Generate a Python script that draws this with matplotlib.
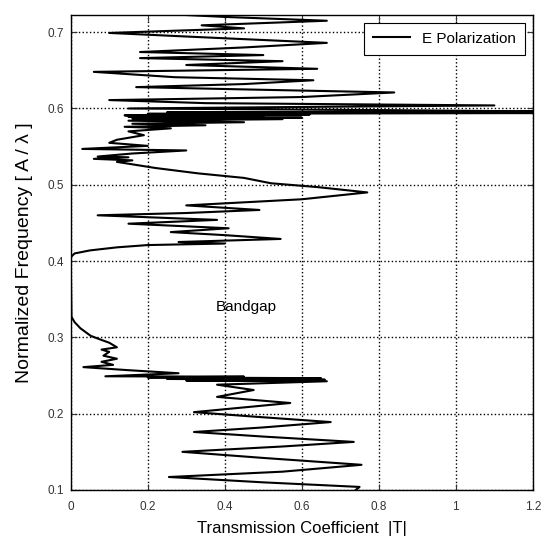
import matplotlib
matplotlib.use("Agg")
import matplotlib.pyplot as plt

plt.rcParams['font.family'] = ['Liberation Sans', 'DejaVu Sans']

# Normalized frequency (a/lambda) and transmission |T|
freq = [0.100, 0.104, 0.110, 0.117, 0.124, 0.133, 0.142, 0.150, 0.157, 0.163,
        0.170, 0.176, 0.182, 0.189, 0.196, 0.202, 0.214, 0.222, 0.231, 0.238,
        0.2425, 0.2435, 0.2445, 0.2455, 0.2465, 0.2475, 0.2485, 0.249, 0.253,
        0.257, 0.261, 0.264, 0.268,
        0.272, 0.276, 0.281, 0.284, 0.287, 0.293, 0.297, 0.302, 0.312, 0.320,
        0.327, 0.405, 0.410, 0.414, 0.418, 0.421, 0.423, 0.425, 0.429, 0.434,
        0.438, 0.443, 0.449, 0.454, 0.460, 0.463, 0.467, 0.473, 0.481, 0.490,
        0.497, 0.502, 0.509, 0.515, 0.522, 0.530, 0.532, 0.534, 0.536, 0.537,
        0.541, 0.545,
        0.547, 0.551, 0.555, 0.559, 0.565, 0.570, 0.574, 0.576, 0.578, 0.580,
        0.582, 0.584, 0.586, 0.587, 0.588, 0.589, 0.590, 0.591, 0.592, 0.593,
        0.594, 0.595, 0.596, 0.598, 0.600, 0.602,
        0.604, 0.607, 0.611, 0.615, 0.621, 0.625, 0.628, 0.632, 0.637, 0.641,
        0.648, 0.652, 0.657, 0.662, 0.666, 0.670, 0.674, 0.680, 0.686, 0.692,
        0.699, 0.705, 0.709, 0.715, 0.720, 0.725]
trans = [0.74, 0.75, 0.50, 0.255, 0.55, 0.755, 0.50, 0.29, 0.55, 0.735,
         0.50, 0.32, 0.50, 0.675, 0.48, 0.32, 0.57, 0.38, 0.475, 0.38,
         0.665, 0.30, 0.66, 0.25, 0.65, 0.20, 0.45, 0.09, 0.28,
         0.15, 0.033, 0.11, 0.08,
         0.12, 0.085, 0.10, 0.08, 0.12, 0.10, 0.078, 0.052, 0.025, 0.01,
         0.002, 0.0, 0.01, 0.05, 0.12, 0.20, 0.40, 0.28, 0.545, 0.40,
         0.26, 0.41, 0.15, 0.38, 0.07, 0.30, 0.49, 0.30, 0.60, 0.77,
         0.64, 0.52, 0.45, 0.33, 0.22, 0.12, 0.16, 0.06, 0.15, 0.07,
         0.16, 0.30,
         0.03, 0.20, 0.10, 0.12, 0.19, 0.15, 0.26, 0.14, 0.35, 0.16,
         0.45, 0.15, 0.55, 0.16, 0.60, 0.15, 0.50, 0.14, 0.62, 0.20,
         1.25, 0.25, 1.25, 0.78, 0.15, 0.60,
         1.10, 0.35, 0.10, 0.60, 0.84, 0.45, 0.17, 0.45, 0.63, 0.27,
         0.06, 0.64, 0.30, 0.55, 0.18, 0.50, 0.18, 0.45, 0.665, 0.40,
         0.10, 0.45, 0.34, 0.665, 0.40, 0.20]

x_ticks = [0, 0.2, 0.4, 0.6, 0.8, 1.0, 1.2]
x_tick_labels = ['0', '0.2', '0.4', '0.6', '0.8', '1', '1.2']
y_ticks = [0.1, 0.2, 0.3, 0.4, 0.5, 0.6, 0.7]
y_tick_labels = ['0.1', '0.2', '0.3', '0.4', '0.5', '0.6', '0.7']

fig = plt.figure(figsize=(5.41, 5.46), dpi=100)
ax = fig.add_axes([0.1307, 0.1026, 0.8543, 0.8699])

ax.plot(trans, freq, color='black', linewidth=1.5, label='E Polarization')

ax.set_xlim(0, 1.2)
ax.set_ylim(0.1, 0.7225)
ax.set_xticks(x_ticks)
ax.set_xticklabels(x_tick_labels)
ax.set_yticks(y_ticks)
ax.set_yticklabels(y_tick_labels)
ax.tick_params(labelsize=8.5, direction='in', length=4, colors='#333333',
               top=True, right=True)
ax.tick_params(axis='x', pad=8)
ax.tick_params(axis='y', pad=5)
ax.grid(True, color='black', linestyle=':', linewidth=1.0)
for s in ax.spines.values():
    s.set_linewidth(1.0)
    s.set_color('black')

ax.set_xlabel('Transmission Coefficient  |T|', fontsize=12, labelpad=6)
ax.set_ylabel('Normalized Frequency [ A / \u03bb ]', fontsize=14, labelpad=10)

ax.text(0.455, 0.34, 'Bandgap', fontsize=11, ha='center', va='center')

leg = ax.legend(loc='upper right', fontsize=11, fancybox=False, framealpha=1,
                edgecolor='black', borderaxespad=0.5, handlelength=2.4,
                borderpad=0.6)
leg.get_frame().set_linewidth(0.8)

fig.savefig('out.png', dpi=100)
